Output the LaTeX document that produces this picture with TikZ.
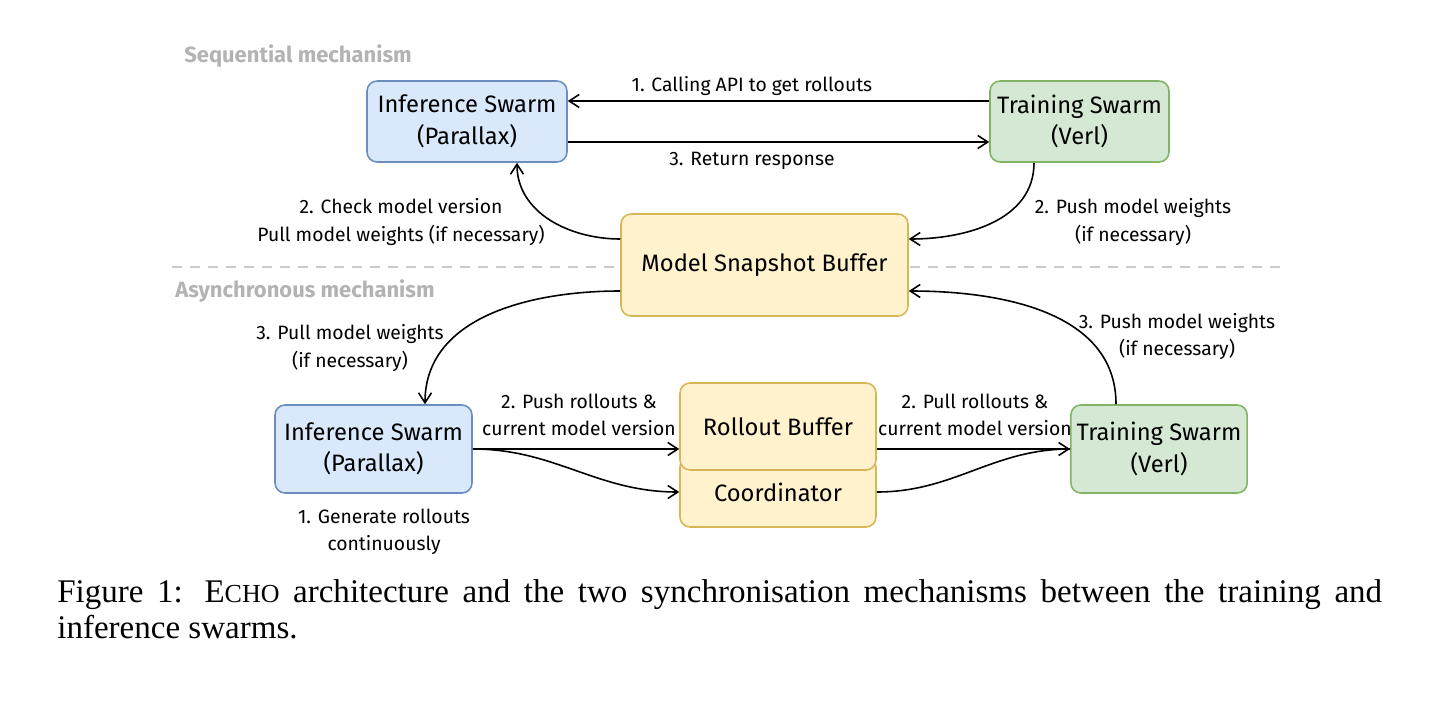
\documentclass[tikz,border=0pt]{standalone}
\usepackage{fontspec}
\setmainfont{Liberation Serif}
\newfontfamily\diagfont{Fira Sans}
\usetikzlibrary{arrows.meta}

\definecolor{infFill}{HTML}{DAE8FC}
\definecolor{infLine}{HTML}{6C8EBF}
\definecolor{trFill}{HTML}{D5E8D4}
\definecolor{trLine}{HTML}{82B366}
\definecolor{bufFill}{HTML}{FFF2CC}
\definecolor{bufLine}{HTML}{D6B656}
\definecolor{headGray}{HTML}{B3B3B3}

\begin{document}
\begin{tikzpicture}[x=0.02cm,y=-0.02cm]
        \tikzstyle{every node}+=[font=\diagfont\fontsize{11}{15.4}\selectfont]
        \tikzstyle{box}=[draw, rounded corners=0.2cm, line width=0.9pt, align=center, font=\diagfont\fontsize{13.5}{18}\selectfont]
        \tikzstyle{infbox}=[box, fill=infFill, draw=infLine]
        \tikzstyle{trbox}=[box, fill=trFill, draw=trLine]
        \tikzstyle{bufbox}=[box, fill=bufFill, draw=bufLine]
        \tikzstyle{link}=[black, line width=0.9pt, -{Straight Barb[length=2mm,width=2.6mm]}]
        \tikzstyle{plain}=[black, line width=0.9pt]
        \tikzstyle{lbl}=[align=center, inner sep=1pt]
        \tikzstyle{head}=[font=\diagfont\bfseries\fontsize{12.5}{15}\selectfont, text=headGray]
        \tikzstyle{capline}=[anchor=base west, inner sep=0pt, font=\fontsize{18.8}{20.5}\selectfont]
        \useasboundingbox (0,0) rectangle (1456,703);
        \draw [headGray!70, line width=1.6pt, dash pattern=on 0.2cm off 0.16cm] (172,267) -- (1282,267);
        \node [head] (seqHead) at (298,56) {Sequential mechanism};
        \node [head] (asyHead) at (305,291) {Asynchronous mechanism};
        \node [infbox, minimum width=4cm, minimum height=1.62cm] (infA) at (467,121.5) {Inference Swarm\\(Parallax)};
        \node [trbox, minimum width=3.58cm, minimum height=1.62cm] (trA) at (1079.5,121.5) {Training Swarm\\(Verl)};
        \node [bufbox, minimum width=5.74cm, minimum height=2.04cm] (msb) at (764.5,265) {Model Snapshot Buffer};
        \node [infbox, minimum width=3.94cm, minimum height=1.76cm] (infB) at (373.5,449) {Inference Swarm\\(Parallax)};
        \node [trbox, minimum width=3.44cm, minimum height=1.76cm] (trB) at (1159,449) {Training Swarm\\(Verl)};
        \node [bufbox, minimum width=3.92cm, minimum height=1.4cm] (coord) at (778,492) {Coordinator};
        \node [bufbox, minimum width=3.92cm, minimum height=1.74cm] (rb) at (778,426.5) {Rollout Buffer};
        \draw [link] ([yshift=0.41cm]trA.west) -- ([yshift=0.41cm]infA.east) node [pos=0.563, above=-1pt] (lblCall) {1. Calling API to get rollouts};
        \draw [link] ([yshift=-0.41cm]infA.east) -- ([yshift=-0.41cm]trA.west) node [pos=0.437, below=2pt] (lblRet) {3. Return response};
        \draw [link] ([yshift=0.52cm]msb.west) to [out=180, in=-90] ([xshift=1cm]infA.south);
        \node [lbl] (lblCheck) at (401,222) {2. Check model version\\Pull model weights (if necessary)};
        \draw [link] ([xshift=-0.91cm]trA.south) to [out=-90, in=0] ([yshift=0.52cm]msb.east);
        \node [lbl] (lblPushA) at (1133,222) {2. Push model weights\\(if necessary)};
        \draw [link] ([yshift=-0.52cm]msb.west) to [out=180, in=90] ([xshift=1.03cm]infB.north);
        \node [lbl] (lblPull) at (350,348) {3. Pull model weights\\(if necessary)};
        \draw [link] ([xshift=-0.86cm]trB.north) to [out=90, in=0] ([yshift=-0.52cm]msb.east);
        \node [lbl] (lblPushB) at (1177,336.5) {3. Push model weights\\(if necessary)};
        \draw [link] (infB.east) -- (infB.east -| rb.west);
        \draw [link] (infB.east) to [out=0, in=180] (coord.west);
        \node [lbl] (lblPushRoll) at (579,414.5) {2. Push rollouts \&\\current model version};
        \draw [link] (rb.east |- trB.west) -- (trB.west);
        \draw [plain] (coord.east) to [out=0, in=180] (trB.west);
        \node [lbl] (lblPullRoll) at (975,414.5) {2. Pull rollouts \&\\current model version};
        \node [lbl] (lblGen) at (384,531.5) {1. Generate rollouts\\continuously};
        \node [capline] (capA) at (57,602) {\makebox[26.5cm][s]{Figure 1: E{\fontsize{14.8}{16}\selectfont CHO} architecture and the two synchronisation mechanisms between the training and}};
        \node [capline] (capB) at (57,638) {inference swarms.};
\end{tikzpicture}
\end{document}
